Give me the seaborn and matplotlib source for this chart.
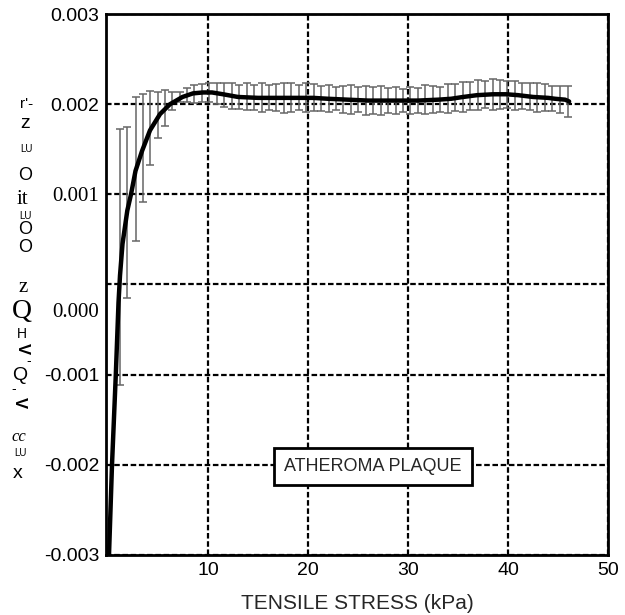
import numpy as np
import seaborn as sns
import matplotlib.pyplot as plt
from matplotlib.patches import Rectangle
from matplotlib.transforms import ScaledTranslation

# mean curve (tensile stress in kPa, strain value)
line_x = [0.1, 0.4, 0.78, 1.05, 1.2, 1.45, 1.93, 2.3, 2.75, 3.4, 4.2, 5.2, 6.2,
          7.45, 8.5, 9.5, 10.4, 11.5, 13.0, 15.0, 17.0, 18.9, 20.5, 22.0, 24.0,
          26.0, 28.0, 31.0, 33.0, 34.3, 35.5, 36.9, 38.5, 39.8, 41.0, 42.5,
          44.0, 44.7, 45.7, 46.1]
line_y = [-0.0030, -0.0020, -0.0010, -0.0002, 0.0001, 0.00045, 0.00082, 0.0010,
          0.00126, 0.00148, 0.00171, 0.00189, 0.00200, 0.00208, 0.00212,
          0.00213, 0.00213, 0.00211, 0.00208, 0.00207, 0.00207, 0.00207,
          0.00207, 0.00206, 0.00205, 0.00204, 0.00204, 0.00204, 0.00205,
          0.00206, 0.00208, 0.00210, 0.00211, 0.00211, 0.00210, 0.00208,
          0.00207, 0.00206, 0.00205, 0.00203]

# error bars
bar_x = [1.2, 1.93, 2.75, 3.46, 4.2, 4.97, 5.7, 6.4, 7.15, 7.9, 8.6, 9.4, 10.1,
         10.9, 11.6, 12.4, 13.1, 13.9, 14.6, 15.4, 16.1, 16.8, 17.6, 18.3, 19.1,
         19.8, 20.6, 21.3, 22.1, 22.8, 23.5, 24.3, 25.0, 25.8, 26.5, 27.3, 28.0,
         28.8, 29.5, 30.2, 31.0, 31.7, 32.5, 33.2, 34.0, 34.7, 35.5, 36.2, 37.0,
         37.7, 38.5, 39.2, 39.9, 40.7, 41.4, 42.2, 42.9, 43.7, 44.4, 45.2, 46.0]
bar_mean = [0.00031, 0.0008, 0.00128, 0.00151, 0.00174, 0.00188, 0.00196,
            0.00204, 0.00208, 0.00210, 0.00211, 0.00212, 0.00213, 0.00212,
            0.00210, 0.00209, 0.00208, 0.00208, 0.00207, 0.00207, 0.00207,
            0.00207, 0.00207, 0.00207, 0.00207, 0.00207, 0.00207, 0.00206,
            0.00206, 0.00206, 0.00205, 0.00205, 0.00205, 0.00204, 0.00204,
            0.00204, 0.00204, 0.00204, 0.00204, 0.00204, 0.00204, 0.00205,
            0.00205, 0.00205, 0.00206, 0.00207, 0.00208, 0.00209, 0.00210,
            0.00211, 0.00211, 0.00211, 0.00211, 0.00210, 0.00209, 0.00208,
            0.00207, 0.00207, 0.00206, 0.00205, 0.00203]
bar_err = [0.00142, 0.00095, 0.0008, 0.0006, 0.00041, 0.00025, 0.0002, 0.0001,
           0.00006, 0.00008, 0.0001, 0.0001, 0.00011, 0.00012, 0.00013, 0.00014,
           0.00013, 0.00015, 0.00014, 0.00016, 0.00014, 0.00015, 0.00017,
           0.00016, 0.00014, 0.00016, 0.00015, 0.00014, 0.00015, 0.00013,
           0.00015, 0.00016, 0.00014, 0.00016, 0.00015, 0.00016, 0.00014,
           0.00015, 0.00013, 0.00015, 0.00014, 0.00016, 0.00015, 0.00014,
           0.00016, 0.00015, 0.00017, 0.00016, 0.00017, 0.00015, 0.00017,
           0.00016, 0.00015, 0.00016, 0.00014, 0.00015, 0.00016, 0.00015,
           0.00014, 0.00015, 0.00017]

x_ticks = [10, 20, 30, 40, 50]
y_ticks = [-0.003, -0.002, -0.001, 0.0, 0.001, 0.002, 0.003]
y_tick_labels = ['-0.003', '-0.002', '-0.001', '0.000', '0.001', '0.002', '0.003']
x_label = 'TENSILE STRESS (kPa)'
box_text = 'ATHEROMA PLAQUE'

# garbled vertical axis label, as it appears in the scan
side_chars = ["r'-", 'z', 'LU', 'O', 'it', 'LU', 'O', 'O', 'z', 'Q', 'H',
              'V', '-', 'Q', '-', 'V', 'cc', 'LU', 'x']

sns.set_style('white')
plt.rcParams['font.family'] = ['Liberation Sans', 'DejaVu Sans']

fig = plt.figure(figsize=(6.25, 6.15), dpi=100)
ax = fig.add_axes([0.1696, 0.0976, 0.8034, 0.8796])

ax.errorbar(bar_x, bar_mean, yerr=bar_err, fmt='none', ecolor='0.4',
            elinewidth=1.1, capsize=3, capthick=1.1, zorder=3)
sns.lineplot(x=line_x, y=line_y, ax=ax, color='black', lw=3.2, sort=False,
             zorder=4)

ax.set_xlim(-0.2, 50)
ax.set_ylim(-0.003, 0.003)
ax.set_xticks(x_ticks)
ax.set_yticks(y_ticks)
ax.set_yticklabels(y_tick_labels)
ax.grid(True, color='black', linestyle=(0, (2.5, 1.2)), lw=1.6)
ax.set_axisbelow(True)
for s in ax.spines.values():
    s.set_color('black')
    s.set_linewidth(2)
ax.tick_params(axis='both', length=0, labelsize=14, colors='black')
ax.tick_params(axis='y', pad=5)
ax.tick_params(axis='x', pad=5)
ax.set_xlabel(x_label, fontsize=15, labelpad=11)

# scanned labels: two in serif, one shifted down
for lab in ax.get_yticklabels():
    if lab.get_text() in ('0.001', '0.000'):
        lab.set_fontfamily('Liberation Serif')
        lab.set_fontsize(15)
    if lab.get_text() == '0.000':
        lab.set_transform(lab.get_transform() +
                          ScaledTranslation(0, -0.26, fig.dpi_scale_trans))

# label box
ax.add_patch(Rectangle((0.335, 0.129), 0.394, 0.068, transform=ax.transAxes,
                       facecolor='white', edgecolor='black', lw=2, zorder=5))
ax.text(0.532, 0.163, box_text, transform=ax.transAxes, ha='center',
        va='center', fontsize=13, zorder=6)

# stacked scan glyphs on the left
side_pos = [(27, 104), (25, 124), (26, 149), (25, 175), (22, 200), (25, 216),
            (25, 229), (25, 247), (23, 288), (22, 311), (22, 334), (22, 349),
            (29, 361), (20, 375), (14, 389), (19, 403), (19, 437), (20, 453),
            (18, 473)]
serif_chars = {4: 15, 8: 15, 9: 20, 16: 12}
for i, (ch, (px, py)) in enumerate(zip(side_chars, side_pos)):
    kw = dict(ha='center', va='center', fontsize=14, color='black')
    if ch == 'LU':
        kw['fontsize'] = 7
    if ch == 'O':
        kw['fontsize'] = 13
    if ch == "r'-":
        kw['fontsize'] = 11
    if ch == 'H':
        kw['fontsize'] = 10
    if ch == '-':
        kw['fontsize'] = 10
    if ch == 'V':
        kw['rotation'] = -90
        kw['fontweight'] = 'bold'
        kw['fontsize'] = 12
    if i in serif_chars:
        kw['fontfamily'] = 'Liberation Serif'
        kw['fontsize'] = serif_chars[i]
        if ch == 'cc':
            kw['fontstyle'] = 'italic'
    fig.text(px / 625, 1 - py / 615, ch, **kw)

fig.savefig('out.png', dpi=100)
